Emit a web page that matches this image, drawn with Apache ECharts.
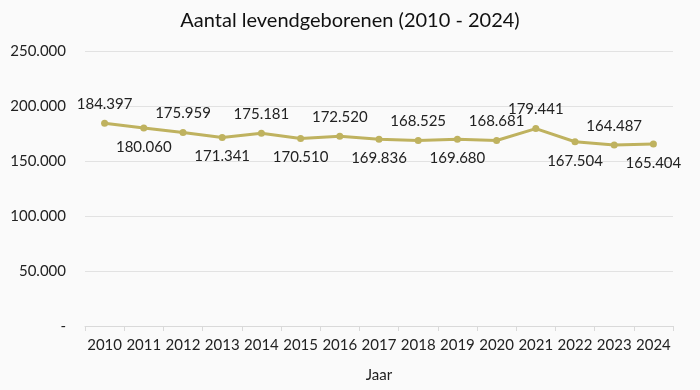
<!DOCTYPE html>
<html><head><meta charset="utf-8">
<script src="https://cdn.jsdelivr.net/npm/echarts@6/dist/echarts.min.js"></script>
<style>html,body{margin:0;padding:0;background:#fafafa}#c{width:700px;height:390px}</style>
</head><body><div id="c"></div>
<script>
const years = ['2010','2011','2012','2013','2014','2015','2016','2017','2018','2019','2020','2021','2022','2023','2024'];
const births = [184397,180060,175959,171341,175181,170510,172520,169836,168525,169680,168681,179441,167504,164487,165404];
const labelPos = ['top','bottom','top','bottom','top','bottom','top','bottom','top','bottom','top','top','bottom','top','bottom'];
const yTicks = [0,50000,100000,150000,200000,250000];

function fmt(v){ if(v===0) return '-'; return String(v).replace(/\B(?=(\d{3})+(?!\d))/g,'.'); }
const font = 'Lato, "Open Sans", sans-serif';
const chart = echarts.init(document.getElementById('c'));
chart.setOption({
  backgroundColor:'#fafafa',
  animation:false,
  title:{text:'Aantal levendgeborenen (2010 - 2024)',left:'center',top:6,textStyle:{fontFamily:font,fontWeight:'normal',fontSize:20,color:'#111'}},
  grid:{left:85,right:27,top:51,bottom:64},
  xAxis:{type:'category',data:years,boundaryGap:true,
    axisLine:{lineStyle:{color:'#d9d9d9'}},axisTick:{show:true,length:5,interval:0,lineStyle:{color:'#d9d9d9'}},
    axisLabel:{fontFamily:font,fontSize:15,color:'#222',margin:12,interval:0},
    name:'Jaar',nameLocation:'middle',nameGap:42,nameTextStyle:{fontFamily:font,fontSize:15,color:'#222'}},
  yAxis:{type:'value',min:yTicks[0],max:yTicks[yTicks.length-1],interval:50000,
    axisLine:{show:false},axisTick:{show:false},
    splitLine:{lineStyle:{color:'#e2e2e2'}},
    axisLabel:{fontFamily:font,fontSize:15,color:'#222',margin:19,formatter:fmt}},
  series:[{type:'line',data:births.map((v,i)=>({value:v,label:{position:labelPos[i]}})),
    lineStyle:{color:'#bfb25f',width:3},itemStyle:{color:'#bfb25f'},symbol:'circle',symbolSize:7,
    label:{show:true,fontFamily:font,fontSize:15,color:'#222',distance:8,formatter:p=>fmt(p.value)}}]
});
</script></body></html>
